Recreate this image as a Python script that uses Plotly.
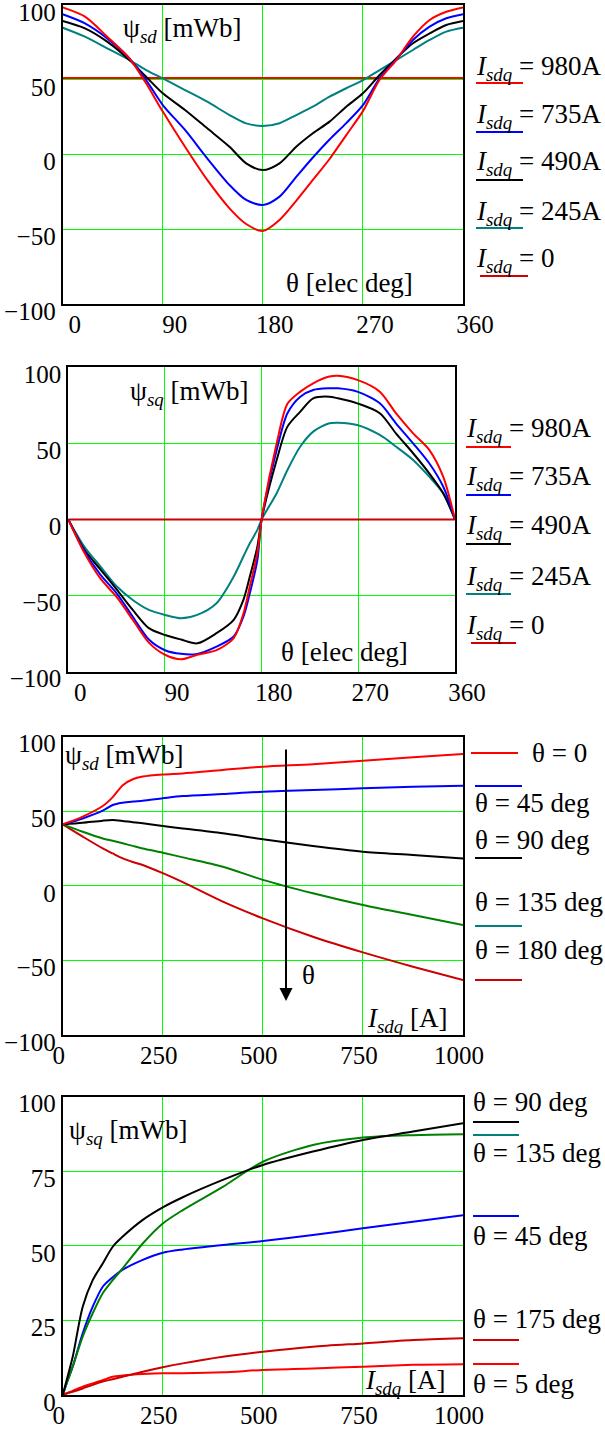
import plotly.graph_objects as go

# ---------------- data ----------------
# Panel 1: psi_sd vs rotor angle for several currents
theta1 = [0, 20, 40, 60, 75, 90, 110, 130, 150, 165, 180, 195, 210, 225, 240, 255,
          270, 285, 300, 315, 330, 345, 360]
psi_sd_980 = [98.4, 92.2, 78.8, 64.3, 47.6, 28.7, 5.2, -17, -36, -46.5, -51.2, -43.8,
              -31, -17, -3, 13, 29, 50, 63.2, 78.8, 90, 95.5, 98.4]
psi_sd_735 = [93.8, 87.7, 77.7, 64.3, 49.8, 33.1, 16.4, -2.6, -20.4, -30.4, -33.8, -28.2,
              -15, -2, 10, 21, 33, 51, 63.6, 76.6, 85.5, 91.1, 93.8]
psi_sd_490 = [89.3, 84.4, 75.5, 63.2, 52, 40.9, 29.8, 17.5, 5.2, -5.9, -10.4, -5.9,
              5.2, 14.2, 22, 32, 40.9, 53.2, 64.3, 74.4, 81, 86.6, 89.3]
psi_sd_245 = [84.8, 78.8, 71, 63.2, 56.5, 50.9, 43.1, 35.3, 26.4, 20.8, 19.1, 20.9,
              26.4, 32, 38.7, 44.3, 49.8, 56.5, 63.2, 69.9, 76.6, 82.2, 84.8]
theta_ends = [0, 360]
psi_sd_0 = [51.2, 51.2]

# Panel 2: psi_sq vs rotor angle
theta2 = [0, 15, 30, 45, 60, 75, 90, 105, 120, 138, 154, 163, 169, 176, 180, 194, 204,
          216, 228, 243, 251, 269, 290, 305, 321, 336, 349, 360]
psi_sq_980 = [0, -22, -39, -51, -66, -81, -89, -92, -89, -86, -78, -62, -44, -22, 0, 50,
              76, 84, 89.5, 93.9, 94.5, 91.7, 84, 69.8, 56.6, 45.7, 28.1, 0]
psi_sq_735 = [0, -21, -36.5, -48.6, -64, -79, -86, -88.4, -88.4, -83.6, -77, -64, -48.6,
              -26.7, 0, 45.6, 69.8, 80.7, 85.1, 86.2, 86.2, 84, 76.3, 63.2, 50, 36.9, 21.6, 0]
psi_sq_490 = [0, -20, -33, -46, -59.5, -71.5, -76, -79, -81.5, -74.8, -66, -52.9, -37.6,
              -17.9, 0, 39, 61, 70.9, 79.6, 80.7, 79.6, 76.3, 69.8, 56.6, 43.5, 30.3, 17.2, 0]
psi_sq_245 = [0, -18, -31, -44, -53, -59.5, -62.8, -65, -62.8, -55.1, -37.6, -24.4, -15.7,
              -6.9, 0, 17.2, 32.5, 47.9, 57.7, 63.2, 63.6, 62.1, 55.5, 47.9, 39.1, 28.1, 17.2, 0]
psi_sq_0 = [0, 0]

# Panel 3: psi_sd vs current for several angles
i3 = [0, 50, 100, 125, 150, 175, 200, 250, 300, 400, 500, 625, 750, 875, 1000]
psd_th0 = [41.2, 46.4, 53.5, 59.5, 67.5, 71.5, 73.3, 74.7, 75.4, 77.7, 79.9, 81.6, 83.9, 86.2, 88.4]
psd_th45 = [41.2, 45.2, 50.4, 54.2, 55.7, 56.5, 57.1, 58.7, 60.2, 61.6, 63.1, 64.2, 65.4, 66.5, 67.1]
psd_th90 = [41.2, 42.3, 43.7, 44.1, 43.5, 42.7, 41.9, 40.1, 38.5, 35.2, 31.2, 26.7, 22.9, 20.7, 18.4]
psd_th135 = [41.2, 36.3, 31.8, 30.2, 28.5, 26.8, 25.1, 22.2, 19.1, 12.8, 4, -5, -12.9, -19.6, -26.3]
psd_th180 = [41.2, 33, 25.1, 21.7, 18.4, 16, 14, 8.5, 2.5, -10.6, -21.8, -34.1, -44.6, -54.2, -63.2]

# Panel 4: psi_sq vs current for several angles
i4 = [0, 10, 25, 50, 75, 100, 125, 150, 200, 250, 300, 400, 500, 625, 750, 875, 1000]
psq_th90 = [0, 5, 12.8, 29.6, 38.5, 44.1, 49.7, 53.1, 58.7, 62.9, 66.3, 72.1, 77.1, 81.6, 85.5, 88.3, 91.1]
psq_th135 = [0, 4, 9.5, 19.6, 27.4, 34.1, 38.5, 42.5, 50.8, 57.5, 62, 69.8, 78.2, 83.8, 86.3, 87.1, 87.4]
psq_th45 = [0, 4, 9.5, 20.7, 29.6, 36.3, 39.5, 42, 45.3, 47.7, 48.8, 50.3, 51.6, 53.6, 55.9, 58.1, 60.3]
psq_th175 = [0, 0.5, 1.1, 2.2, 3.4, 4.5, 5.3, 6.1, 7.8, 9.3, 10.6, 12.8, 14.5, 16.2, 17.3, 18.4, 19]
psq_th5 = [0, 0.6, 1.4, 2.8, 3.9, 5, 6.1, 6.5, 7, 7.3, 7.3, 7.6, 8.4, 8.9, 9.5, 10.1, 10.3]

# ---------------- styling ----------------
W, H = 605, 1430
FONT = "Liberation Serif, Times New Roman, DejaVu Serif, serif"
RED, BLUE, BLACK, TEAL = "#ff0000", "#0000ff", "#000000", "#008080"
DRED, GREEN = "#cc0000", "#008000"


def px(x):
    return x / W


def py(y):
    return 1 - y / H


fig = go.Figure()


def add_line(x, y, color, ax):
    fig.add_trace(go.Scatter(
        x=x, y=y, mode="lines", xaxis="x" + ax, yaxis="y" + ax,
        line=dict(color=color, width=2, shape="spline", smoothing=0.8),
        showlegend=False, hoverinfo="skip"))


# panel 1
add_line(theta_ends, psi_sd_0, RED, "")
add_line(theta1, psi_sd_245, TEAL, "")
add_line(theta1, psi_sd_490, BLACK, "")
add_line(theta1, psi_sd_735, BLUE, "")
add_line(theta1, psi_sd_980, RED, "")
# panel 2
add_line(theta_ends, psi_sq_0, DRED, "2")
add_line(theta2, psi_sq_245, TEAL, "2")
add_line(theta2, psi_sq_490, BLACK, "2")
add_line(theta2, psi_sq_735, BLUE, "2")
add_line(theta2, psi_sq_980, RED, "2")
# panel 3
add_line(i3, psd_th180, DRED, "3")
add_line(i3, psd_th135, GREEN, "3")
add_line(i3, psd_th90, BLACK, "3")
add_line(i3, psd_th45, BLUE, "3")
add_line(i3, psd_th0, RED, "3")
# panel 4
add_line(i4, psq_th5, RED, "4")
add_line(i4, psq_th175, DRED, "4")
add_line(i4, psq_th45, BLUE, "4")
add_line(i4, psq_th135, GREEN, "4")
add_line(i4, psq_th90, BLACK, "4")

AXBASE = dict(showgrid=True, gridcolor="#00ff00", gridwidth=1, zeroline=False,
              showline=True, linecolor="black", linewidth=2, mirror=True, ticks="",
              tickfont=dict(family=FONT, size=25, color="black"),
              automargin=False, fixedrange=True, tick0=0, ticklabeloverflow="allow")


def xax(x0, x1, anchor, rng, dtick, shift):
    return dict(AXBASE, domain=[px(x0), px(x1)], anchor=anchor, range=rng, dtick=dtick,
                ticklabelshift=shift, ticklabelstandoff=-3)


def yax(y0, y1, anchor, rng, dtick):
    return dict(AXBASE, domain=[py(y1), py(y0)], anchor=anchor, range=rng, dtick=dtick,
                ticklabelshift=7, ticklabelstandoff=0)


fig.update_layout(
    width=W, height=H, autosize=False,
    margin=dict(l=0, r=0, t=0, b=0, pad=0, autoexpand=False),
    paper_bgcolor="white", plot_bgcolor="white",
    font=dict(family=FONT, color="black"),
    xaxis=xax(62.7, 463, "y", [0, 360], 90, 12),
    yaxis=yax(5, 304, "x", [-100, 100], 50),
    xaxis2=xax(68.3, 455, "y2", [0, 360], 90, 12),
    yaxis2=yax(367.3, 671.5, "x2", [-100, 100], 50),
    xaxis3=xax(62.7, 463, "y3", [0, 1000], 250, -4),
    yaxis3=yax(736.7, 1035, "x3", [-100, 100], 50),
    xaxis4=xax(62.7, 463, "y4", [0, 1000], 250, -4),
    yaxis4=yax(1096.7, 1395, "x4", [0, 100], 25),
)

annotations = []
shapes = []


def text(x, y, s, anchor="left", size=27):
    annotations.append(dict(x=px(x), y=py(y), xref="paper", yref="paper", text=s,
                            showarrow=False, xanchor=anchor, yanchor="middle",
                            font=dict(family=FONT, size=size, color="black")))


def sample(x0, x1, y, color):
    shapes.append(dict(type="line", xref="paper", yref="paper",
                       x0=px(x0), x1=px(x1), y0=py(y), y1=py(y),
                       line=dict(color=color, width=2)))


ISDQ = "<i>I</i><sub><i>sdq</i></sub>"

# axis captions inside plots
text(182, 30, "ψ<sub><i>sd</i></sub> [mWb]", "center")
text(349, 283, "θ [elec deg]", "center")
text(189, 393, "ψ<sub><i>sq</i></sub> [mWb]", "center")
text(344, 652, "θ [elec deg]", "center")
text(124, 757, "ψ<sub><i>sd</i></sub> [mWb]", "center")
text(407, 1020, ISDQ + " [A]", "center")
text(128, 1132, "ψ<sub><i>sq</i></sub> [mWb]", "center")
text(405, 1382, ISDQ + " [A]", "center")

# panel 1 key
for lab, ty, ly, col, lx0, lx1 in [
    ("980A", 68, 83, RED, 476, 523),
    ("735A", 116, 132, BLUE, 476, 523),
    ("490A", 163, 180, BLACK, 476, 523),
    ("245A", 213, 228, TEAL, 476, 523),
    ("0", 260, 276, DRED, 480, 528),
]:
    text(474, ty, ISDQ + " = " + lab)
    sample(lx0, lx1, ly, col)

# panel 2 key
for lab, ty, ly, col, lx0, lx1 in [
    ("980A", 430, 447, RED, 466, 511),
    ("735A", 478, 495, BLUE, 466, 511),
    ("490A", 527, 544, BLACK, 466, 511),
    ("245A", 578, 594, TEAL, 466, 511),
    ("0", 627, 643, DRED, 471, 516),
]:
    text(464, ty, ISDQ + " = " + lab)
    sample(lx0, lx1, ly, col)

# panel 3 key
text(530, 753, "θ = 0")
sample(471, 518, 753, RED)
text(473, 803, "θ = 45 deg")
sample(475, 522, 786, BLUE)
text(473, 840, "θ = 90 deg")
sample(475, 522, 858, BLACK)
text(473, 902, "θ = 135 deg")
sample(475, 522, 926, TEAL)
text(473, 950, "θ = 180 deg")
sample(475, 522, 980, DRED)

# panel 4 key
text(471, 1102, "θ = 90 deg")
sample(473, 519, 1122, BLACK)
sample(473, 519, 1135, TEAL)
text(471, 1153, "θ = 135 deg")
sample(473, 519, 1216, BLUE)
text(471, 1236, "θ = 45 deg")
text(471, 1319, "θ = 175 deg")
sample(473, 519, 1340, DRED)
sample(473, 519, 1364, RED)
text(471, 1384, "θ = 5 deg")

# direction-of-increasing-angle arrow in panel 3
annotations.append(dict(x=px(286), y=py(1001), ax=0, ay=-253,
                        xref="paper", yref="paper", axref="pixel", ayref="pixel",
                        text="", showarrow=True, arrowhead=2, arrowsize=1.3,
                        arrowwidth=2, arrowcolor="black"))
text(300, 975, "θ")

fig.update_layout(annotations=annotations, shapes=shapes)
fig.write_html("out.html")
